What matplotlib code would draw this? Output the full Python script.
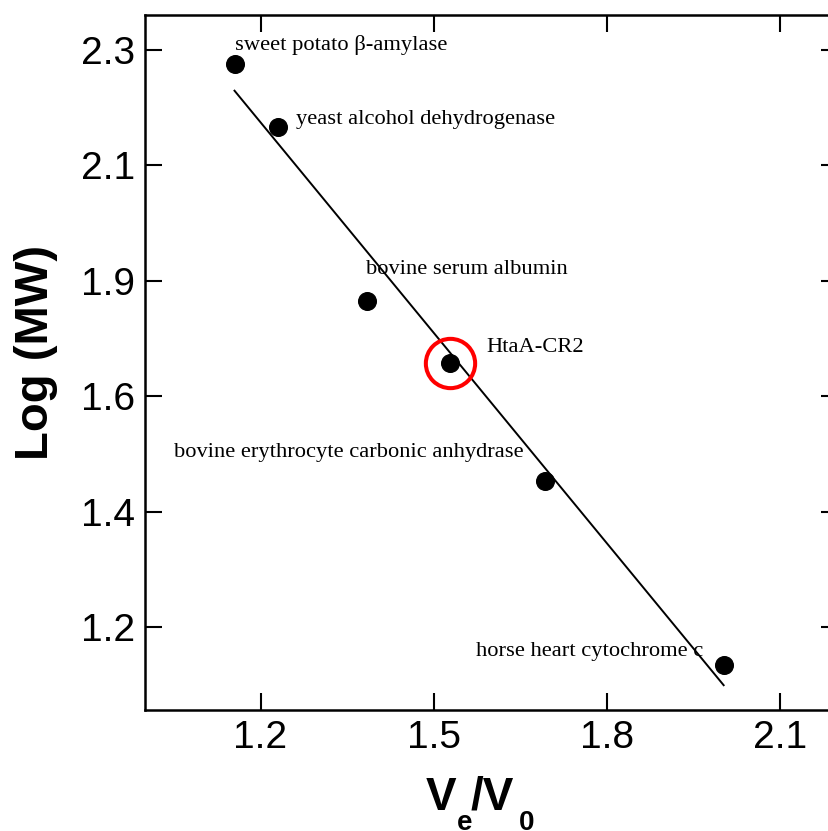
import matplotlib
matplotlib.use("Agg")
import matplotlib.pyplot as plt
import numpy as np

plt.rcParams["font.family"] = ["Liberation Sans", "DejaVu Sans"]

# calibration standards
proteins = [
    "sweet potato β-amylase",
    "yeast alcohol dehydrogenase",
    "bovine serum albumin",
    "bovine erythrocyte carbonic anhydrase",
    "horse heart cytochrome c",
]
ve_v0 = [1.155, 1.230, 1.384, 1.693, 2.002]
log_mw = [2.225, 2.116, 1.815, 1.503, 1.184]

# unknown sample
sample_name = "HtaA-CR2"
sample_ve_v0 = 1.528
sample_log_mw = 1.708

# label anchor points (data coords, left/centre of text)
label_x = [1.155, 1.261, 1.382, 1.051, 1.574]
label_y = [2.258, 2.130, 1.869, 1.552, 1.207]
sample_label_x = 1.592
sample_label_y = 1.735

yticks = [2.25, 2.05, 1.85, 1.65, 1.45, 1.25]
ytick_labels = ["2.3", "2.1", "1.9", "1.6", "1.4", "1.2"]
xticks = [1.2, 1.5, 1.8, 2.1]
xtick_labels = ["1.2", "1.5", "1.8", "2.1"]

W, H = 829, 831
fig = plt.figure(figsize=(W / 100, H / 100), dpi=100)
ax = fig.add_axes([145 / W, 121 / H, 693 / W, 695 / H])

# least-squares fit through the standards
slope, intercept = np.polyfit(ve_v0, log_mw, 1)
fit_x = np.array([min(ve_v0), max(ve_v0)])
ax.plot(fit_x, slope * fit_x + intercept, color="black", lw=1.4)

ax.plot(ve_v0, log_mw, "o", color="black", ms=12.7)
ax.plot(sample_ve_v0, sample_log_mw, "o", color="black", ms=12.7)
ax.plot(sample_ve_v0, sample_log_mw, "o", mfc="none", mec="#ff0000",
        ms=35.5, mew=2.9)

for name, lx, ly in zip(proteins, label_x, label_y):
    ax.text(lx, ly, name, family="Liberation Serif", fontsize=16.2,
            ha="left", va="center")
ax.text(sample_label_x, sample_label_y, sample_name, family="Liberation Serif",
        fontsize=16.2, ha="left", va="center")

ax.set_xlim(1.0, 2.2)
ax.set_ylim(1.1062, 2.3107)
ax.set_xticks(xticks, xtick_labels)
ax.set_yticks(yticks, ytick_labels)
ax.tick_params(direction="in", length=12.2, width=1.5, labelsize=28,
               top=True, right=True, pad=7)
for sp in ax.spines.values():
    sp.set_linewidth(1.8)

ax.set_ylabel("Log (MW)", fontsize=34, fontweight="bold", va="center")
ax.yaxis.set_label_coords(-0.157, 0.515)

# x label: V_e / V_0 with low-set subscripts
def px(x, y):
    return x / W, 1 - y / H

big = dict(fontsize=33, fontweight="bold", va="baseline", ha="left")
small = dict(fontsize=20, fontweight="bold", va="baseline", ha="left")
fig.text(*px(426, 810), "V", **big)
fig.text(*px(457, 830), "e", **small)
fig.text(*px(471, 810), "/V", **big)
fig.text(*px(519, 830), "0", **small)

fig.savefig("out.png", dpi=100)
